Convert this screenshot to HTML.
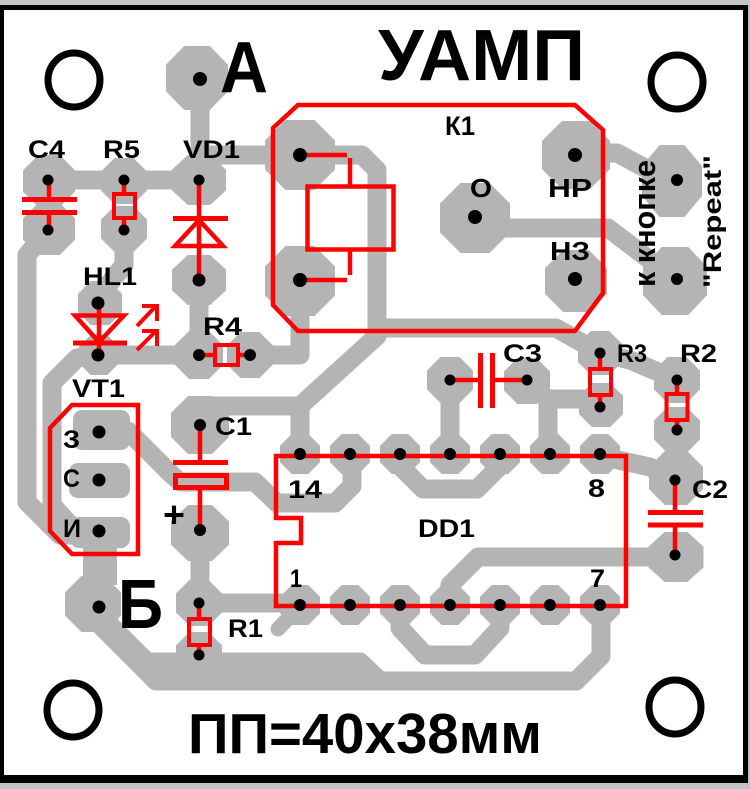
<!DOCTYPE html>
<html><head><meta charset="utf-8"><style>
html,body{margin:0;padding:0;background:#c4c4c4;}
svg{display:block;}
text{font-family:"Liberation Sans",Arial,"Noto Sans CJK SC",sans-serif;font-weight:bold;fill:#000;}
</style></head><body>
<svg width="750" height="789" viewBox="0 0 750 789" xmlns="http://www.w3.org/2000/svg">
<defs><polygon id="o" points="-0.207,-0.5 0.207,-0.5 0.5,-0.207 0.5,0.207 0.207,0.5 -0.207,0.5 -0.5,0.207 -0.5,-0.207"/></defs>
<rect width="750" height="789" fill="#c4c4c4"/>
<rect x="0" y="5" width="748" height="778" fill="#000"/>
<rect x="4" y="10" width="739" height="765" fill="#fff"/>

<!-- traces -->
<g fill="none" stroke="#b4b4b4" stroke-width="19" stroke-linejoin="round" stroke-linecap="round">
<path d="M200,79 V180"/>
<path d="M49,180 H199"/>
<path d="M200,155 H300"/>
<path d="M300,155 H362 L377,170 V328 H556 L600,353"/>
<path d="M300,454 V406 L377,336"/>
<path d="M300,406 H205"/>
<path d="M300,281 V355 H250"/>
<path d="M199,280 V355"/>
<path d="M99,355 H199"/>
<path d="M124,229 V265 L100,295"/>
<path d="M49,229 L27,255 V502 L60,535 H99"/>
<path d="M99,355 L77,358 L52,383 V505 L75,530"/>
<path d="M99,431 H128 L170,473 L180,482 H255 L277,503 H335 L352,486 V454"/>
<path d="M200,533 V603 H300"/>
<path d="M298,608 L278,629" stroke-width="15"/>
<path d="M100,615 L147,662 H360 L380,681"/>
<path d="M100,625 L156,681 H576 L601,656 V605"/>
<path d="M576,153 H617 L645,168 L672,181"/>
<path d="M475,228 H608 L650,260 L675,281"/>
<path d="M450,380 V454"/>
<path d="M527,380 L548,400 V454"/>
<path d="M548,399 H600 V405"/>
<path d="M600,353 L630,360 L677,380"/>
<path d="M600,456 L650,467 L676,480"/>
<path d="M677,430 V480"/>
<path d="M400,454 V466 L423,489 H477 L500,466 V454"/>
<path d="M400,605 V628 L425,655 H475 L500,628 V605"/>
<path d="M450,605 V585 L478,557 H676"/>
</g>

<!-- pads -->
<g fill="#b4b4b4">
<rect x="83" y="535" width="34" height="50"/>
<use href="#o" transform="translate(197,78) scale(62,64)"/>
<use href="#o" transform="translate(49,181) scale(52)"/>
<use href="#o" transform="translate(49,229) scale(52)"/>
<use href="#o" transform="translate(124,181) scale(46)"/>
<use href="#o" transform="translate(124,229) scale(46)"/>
<use href="#o" transform="translate(199,180) scale(54,50)"/>
<use href="#o" transform="translate(199,280) scale(54,50)"/>
<use href="#o" transform="translate(100,303) scale(44)"/>
<use href="#o" transform="translate(99,355) scale(40)"/>
<use href="#o" transform="translate(199,355) scale(48)"/>
<use href="#o" transform="translate(250,355) scale(46)"/>
<use href="#o" transform="translate(300,155) scale(70)"/>
<use href="#o" transform="translate(300,281) scale(70)"/>
<use href="#o" transform="translate(475,218) scale(70)"/>
<use href="#o" transform="translate(576,155) scale(68)"/>
<use href="#o" transform="translate(576,281) scale(62)"/>
<use href="#o" transform="translate(672,181) scale(60,72)"/>
<use href="#o" transform="translate(675,281) scale(64,68)"/>
<use href="#o" transform="translate(200,425) scale(58)"/>
<use href="#o" transform="translate(200,533) scale(58,56)"/>
<use href="#o" transform="translate(199,603) scale(46)"/>
<use href="#o" transform="translate(199,655) scale(46)"/>
<use href="#o" transform="translate(93,604) scale(56)"/>
<use href="#o" transform="translate(450,380) scale(46)"/>
<use href="#o" transform="translate(527,381) scale(46)"/>
<use href="#o" transform="translate(600,353) scale(44)"/>
<use href="#o" transform="translate(601,405) scale(44)"/>
<use href="#o" transform="translate(677,380) scale(46)"/>
<use href="#o" transform="translate(677,430) scale(46)"/>
<use href="#o" transform="translate(676,478) scale(54)"/>
<use href="#o" transform="translate(676,557) scale(55,50)"/>
<rect x="73" y="410" width="57" height="40" rx="9"/>
<rect x="69" y="463" width="61" height="35" rx="9"/>
<rect x="70" y="517" width="60" height="31" rx="9"/>
<use href="#o" transform="translate(300,454) scale(40)"/>
<use href="#o" transform="translate(350,454) scale(40)"/>
<use href="#o" transform="translate(400,454) scale(40)"/>
<use href="#o" transform="translate(450,454) scale(40)"/>
<use href="#o" transform="translate(500,454) scale(40)"/>
<use href="#o" transform="translate(550,454) scale(40)"/>
<use href="#o" transform="translate(600,454) scale(40)"/>
<use href="#o" transform="translate(300,605) scale(40)"/>
<use href="#o" transform="translate(350,605) scale(40)"/>
<use href="#o" transform="translate(400,605) scale(40)"/>
<use href="#o" transform="translate(450,605) scale(40)"/>
<use href="#o" transform="translate(500,605) scale(40)"/>
<use href="#o" transform="translate(550,605) scale(40)"/>
<use href="#o" transform="translate(600,605) scale(40)"/>
</g>

<!-- red silkscreen -->
<g fill="none" stroke="#ff0000" stroke-width="4.5">
<polygon points="298,105 575,105 603,130 603,293 575,331 298,331 273,305 273,128"/>
<rect x="307.5" y="186.5" width="86" height="63"/>
<path d="M300,155 H347 M350,158 V187 M300,280 H347 M350,251 V275"/>
<polygon points="72,405 138,405 138,554 72,554 50,531 50,428"/>
<path d="M276,456 H626 V606 H276 V543 H301 V518 H276 Z"/>
<path d="M49,180 V199 M49,212 V230"/>
<path d="M22,199.5 H77 M22,212.5 H77" stroke-width="5"/>
<path d="M124,180 V194 M124,218 V230"/>
<rect x="114" y="194" width="21" height="24" stroke-width="4"/>
<path d="M199,180 V280"/>
<path d="M173,218.5 H228" stroke-width="5"/>
<polygon points="199,220 175,246 223,246"/>
<path d="M99,303 V355"/>
<polygon points="75,315.5 124,315.5 99,342"/>
<path d="M73,343 H127" stroke-width="5"/>
<path d="M137,326 L156,306 M142,306 H157 V321 M137,350 L156,331 M142,331 H157 V346" stroke-width="4"/>
<path d="M199,355 H215 M238,355 H250"/>
<rect x="215" y="345" width="23" height="20" stroke-width="4"/>
<path d="M200,425 V461 M200,490 V533"/>
<path d="M173,462.5 H228" stroke-width="5"/>
<rect x="175.5" y="475.5" width="51" height="12" stroke-width="5"/>
<path d="M199,603 V619 M199,645 V655"/>
<rect x="189" y="619" width="21" height="26" stroke-width="4"/>
<path d="M450,380 H480 M493,380 H527"/>
<path d="M480.5,353 V408 M492.5,353 V408" stroke-width="5"/>
<path d="M600,353 V369 M600,395 V407"/>
<rect x="590" y="369" width="21" height="26" stroke-width="4"/>
<path d="M677,380 V394 M677,420 V430"/>
<rect x="666.5" y="394" width="21" height="26" stroke-width="4"/>
<path d="M675,480 V512 M675,525 V555"/>
<path d="M648,512.5 H703 M648,525 H703" stroke-width="5"/>
</g>

<!-- holes -->
<g fill="#000">
<circle cx="200" cy="79" r="7"/>
<circle cx="300" cy="155" r="7"/>
<circle cx="300" cy="280" r="7"/>
<circle cx="475" cy="217" r="7"/>
<circle cx="575" cy="155" r="7"/>
<circle cx="575" cy="279" r="7"/>
<circle cx="99" cy="607" r="6.5"/>
<circle cx="677" cy="180" r="6"/>
<circle cx="677" cy="279" r="6"/>
<circle cx="99" cy="432" r="6.5"/>
<circle cx="99" cy="480" r="6.5"/>
<circle cx="99" cy="531" r="6.5"/>
<circle cx="48" cy="180" r="5.5"/>
<circle cx="48" cy="230" r="5.5"/>
<circle cx="124" cy="180" r="5.5"/>
<circle cx="124" cy="230" r="5.5"/>
<circle cx="199" cy="180" r="5.5"/>
<circle cx="199" cy="280" r="6.5"/>
<circle cx="98" cy="303" r="6.5"/>
<circle cx="98" cy="355" r="6.5"/>
<circle cx="199" cy="355" r="6"/>
<circle cx="250" cy="355" r="6"/>
<circle cx="200" cy="425" r="6"/>
<circle cx="200" cy="530" r="6"/>
<circle cx="199" cy="603" r="5.5"/>
<circle cx="199" cy="655" r="5.5"/>
<circle cx="450" cy="380" r="5.5"/>
<circle cx="527" cy="380" r="5.5"/>
<circle cx="600" cy="353" r="5.5"/>
<circle cx="600" cy="407" r="5.5"/>
<circle cx="677" cy="380" r="5.5"/>
<circle cx="677" cy="430" r="5.5"/>
<circle cx="675" cy="480" r="5.5"/>
<circle cx="675" cy="555" r="5.5"/>
<circle cx="300" cy="454" r="6"/><circle cx="350" cy="454" r="6"/><circle cx="400" cy="454" r="6"/><circle cx="450" cy="454" r="6"/><circle cx="500" cy="454" r="6"/><circle cx="550" cy="454" r="6"/><circle cx="600" cy="454" r="6"/>
<circle cx="300" cy="605" r="6"/><circle cx="350" cy="605" r="6"/><circle cx="400" cy="605" r="6"/><circle cx="450" cy="605" r="6"/><circle cx="500" cy="605" r="6"/><circle cx="550" cy="605" r="6"/><circle cx="600" cy="605" r="6"/>
</g>

<!-- mounting holes -->
<g fill="none" stroke="#000" stroke-width="7">
<ellipse cx="74" cy="80" rx="26" ry="27"/>
<ellipse cx="677" cy="82" rx="26" ry="27"/>
<ellipse cx="73" cy="710" rx="26" ry="27"/>
<ellipse cx="675" cy="707" rx="26" ry="27"/>
</g>

<!-- texts -->
<text x="378" y="80" font-size="72" textLength="207" lengthAdjust="spacingAndGlyphs">УАМП</text>
<text x="220" y="92" font-size="72" textLength="48" lengthAdjust="spacingAndGlyphs">А</text>
<text x="118" y="628" font-size="70" textLength="45" lengthAdjust="spacingAndGlyphs">Б</text>
<text x="188" y="753" font-size="57" textLength="354" lengthAdjust="spacingAndGlyphs">ПП=40х38мм</text>

<g font-size="25">
<text x="28" y="158" textLength="37" lengthAdjust="spacingAndGlyphs">C4</text>
<text x="103" y="158" textLength="37" lengthAdjust="spacingAndGlyphs">R5</text>
<text x="183" y="158" textLength="57" lengthAdjust="spacingAndGlyphs">VD1</text>
<text x="83" y="285" textLength="54" lengthAdjust="spacingAndGlyphs">HL1</text>
<text x="203" y="335" textLength="39" lengthAdjust="spacingAndGlyphs">R4</text>
<text x="72" y="397" textLength="53" lengthAdjust="spacingAndGlyphs">VT1</text>
<text x="445" y="135" font-size="27" textLength="30" lengthAdjust="spacingAndGlyphs">К1</text>
<text x="470" y="197" font-size="26" textLength="22" lengthAdjust="spacingAndGlyphs">О</text>
<text x="548" y="197" font-size="26" textLength="44" lengthAdjust="spacingAndGlyphs">НР</text>
<text x="550" y="260" font-size="26" textLength="40" lengthAdjust="spacingAndGlyphs">НЗ</text>
<text x="503" y="362" textLength="39" lengthAdjust="spacingAndGlyphs">C3</text>
<text x="617" y="362" textLength="30" lengthAdjust="spacingAndGlyphs">R3</text>
<text x="680" y="362" textLength="37" lengthAdjust="spacingAndGlyphs">R2</text>
<text x="215" y="435" textLength="37" lengthAdjust="spacingAndGlyphs">C1</text>
<text x="63" y="448" textLength="17" lengthAdjust="spacingAndGlyphs">З</text>
<text x="63" y="487" textLength="17" lengthAdjust="spacingAndGlyphs">С</text>
<text x="63" y="537" textLength="18" lengthAdjust="spacingAndGlyphs">И</text>
<text x="163" y="527" font-size="36" textLength="22" lengthAdjust="spacingAndGlyphs">+</text>
<text x="288" y="498" textLength="34" lengthAdjust="spacingAndGlyphs">14</text>
<text x="290" y="587" textLength="12" lengthAdjust="spacingAndGlyphs">1</text>
<text x="228" y="637" textLength="35" lengthAdjust="spacingAndGlyphs">R1</text>
<text x="588" y="497" textLength="17" lengthAdjust="spacingAndGlyphs">8</text>
<text x="692" y="498" textLength="36" lengthAdjust="spacingAndGlyphs">C2</text>
<text x="418" y="537" textLength="57" lengthAdjust="spacingAndGlyphs">DD1</text>
<text x="590" y="587" textLength="15" lengthAdjust="spacingAndGlyphs">7</text>
</g>
<text transform="translate(655,287) rotate(-90)" font-size="31" textLength="127" lengthAdjust="spacingAndGlyphs">к кнопке</text>
<text transform="translate(721,288) rotate(-90)" font-size="25" textLength="133" lengthAdjust="spacingAndGlyphs">"Repeat"</text>
</svg>
</body></html>
